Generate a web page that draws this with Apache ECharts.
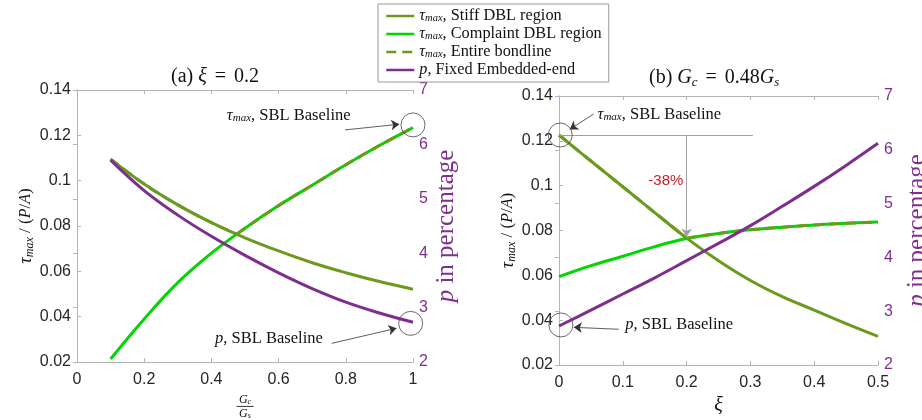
<!DOCTYPE html>
<html><head><meta charset="utf-8">
<script src="https://cdn.jsdelivr.net/npm/echarts@6/dist/echarts.min.js"></script>
<style>html,body{margin:0;padding:0;background:#fff}#c{width:922px;height:420px}</style>
</head><body><div id="c"></div>
<script>
// ---------- Panel (a): xi = 0.2, x = Gc/Gs ----------
const gRatio     = [0.1, 0.2, 0.3, 0.4, 0.5, 0.6, 0.7, 0.8, 0.9, 1.0];
const tauStiffA  = [0.1095, 0.0985, 0.0893, 0.0815, 0.0748, 0.0690, 0.0638, 0.0594, 0.0555, 0.0521];
const tauCompA   = [0.0213, 0.0390, 0.0550, 0.0680, 0.0790, 0.0890, 0.0980, 0.1070, 0.1155, 0.1234];
const entireXA   = [0.1, 0.2, 0.3, 0.4, 0.475, 0.5, 0.6, 0.7, 0.8, 0.9, 1.0];
const tauEntireA = [0.1095, 0.0985, 0.0893, 0.0815, 0.0764, 0.0790, 0.0890, 0.0980, 0.1070, 0.1155, 0.1234];
const pA         = [5.71, 5.15, 4.70, 4.31, 3.96, 3.64, 3.35, 3.10, 2.90, 2.73];

// ---------- Panel (b): Gc = 0.48Gs, x = xi ----------
const xiVals     = [0, 0.05, 0.1, 0.15, 0.2, 0.25, 0.3, 0.35, 0.4, 0.45, 0.5];
const tauStiffB  = [0.1226, 0.1110, 0.0995, 0.0880, 0.0766, 0.0665, 0.0577, 0.0505, 0.0445, 0.0385, 0.0328];
const tauCompB   = [0.0594, 0.0643, 0.0685, 0.0728, 0.0764, 0.0787, 0.0803, 0.0815, 0.0825, 0.0832, 0.0838];
const tauEntireB = [0.1226, 0.1110, 0.0995, 0.0880, 0.0766, 0.0787, 0.0803, 0.0815, 0.0825, 0.0832, 0.0838];
const pB         = [2.725, 3.02, 3.32, 3.62, 3.94, 4.26, 4.59, 4.95, 5.32, 5.71, 6.12];

// ---------- tick labels ----------
const tauTicks = [0.02, 0.04, 0.06, 0.08, 0.1, 0.12, 0.14];
const pTicks   = [2, 3, 4, 5, 6, 7];
const xTicksA  = [0, 0.2, 0.4, 0.6, 0.8, 1];
const xTicksB  = [0, 0.1, 0.2, 0.3, 0.4, 0.5];

// ---------- annotations (data coordinates) ----------
const annA = {
  tauCircle: [1.0, 0.1246], tauArrowFrom: [0.798, 0.1224], tauArrowTo: [0.959, 0.1249], tauText: [0.446, 0.1285],
  pCircle: [0.993, 2.71], pArrowFrom: [0.758, 2.343], pArrowTo: [0.951, 2.62], pText: [0.411, 2.435]
};
const annB = {
  tauCircle: [0.002, 0.1226], tauArrowFrom: [0.0545, 0.132], tauArrowTo: [0.0169, 0.1251], tauText: [0.0603, 0.1315],
  baseFrom: [0.0, 0.1226], baseTo: [0.304, 0.1226], dropFrom: [0.2, 0.1226], dropTo: [0.2, 0.0772],
  pctText: [0.1674, 0.1021], pctLabel: '-38%',
  pCircle: [0.003, 2.744], pArrowFrom: [0.0936, 2.664], pArrowTo: [0.0232, 2.70], pText: [0.104, 2.757]
};

const SERIF = '"Liberation Serif", "DejaVu Serif", serif';
const SANS = '"Liberation Sans", Arial, sans-serif';
const C_STIFF = '#6c9a1f', C_COMP = '#00d600', C_P = '#7e2f8e';
const C_PAX = '#cba3d8', C_AX = '#b4b4b4', C_TXT = '#262626';

const mkRich = (fs, sub) => ({
  t: {fontFamily: SERIF, fontStyle: 'italic', fontSize: fs, color: '#111', lineHeight: 15},
  s: {fontFamily: SERIF, fontStyle: 'italic', fontSize: sub, color: '#111', padding: [5, 0, 0, 0], lineHeight: 11},
  n: {fontFamily: SERIF, fontSize: fs, color: '#111', lineHeight: 15}
});
const legendRich = mkRich(16.3, 10.5);
const annRich = mkRich(16.5, 11);
const legendNames = {
  'Stiff': '{t|τ}{s|max}{n|, Stiff DBL region}',
  'Compliant': '{t|τ}{s|max}{n|, Complaint DBL region}',
  'Entire': '{t|τ}{s|max}{n|, Entire bondline}',
  'pFixed': '{t|p}{n|, Fixed Embedded-end}'
};

const pairs = (xs, ys) => xs.map((x, i) => [x, ys[i]]);
const circle = c => ({coord: c, symbol: 'circle', symbolSize: 24,
  itemStyle: {color: 'rgba(0,0,0,0)', borderColor: '#444', borderWidth: 0.8}, label: {show: false}});
const textAt = (c, f, extra) => ({coord: c, symbol: 'circle', symbolSize: 0,
  itemStyle: {color: 'rgba(0,0,0,0)'},
  label: Object.assign({show: true, position: 'right', distance: 0, formatter: f, rich: annRich}, extra || {})});
const arrow = (a, b) => [{coord: a, symbol: 'none'}, {coord: b, symbol: 'arrow'}];

function panelSeries(k, xs, st, co, exX, ex, pp, tauMarks, pMarks) {
  const base = {type: 'line', xAxisIndex: 2 * k, showSymbol: false, symbol: 'none', clip: false, silent: true, smooth: 0.4};
  const exPts = pairs(exX, ex);
  const kink = ex.indexOf(Math.min.apply(null, ex));   // where the envelope switches branch
  const entire = (d) => Object.assign({}, base, {name: 'Entire', yAxisIndex: 2 * k, data: d,
      lineStyle: {color: C_STIFF, width: 3, type: [10, 6]}, itemStyle: {color: C_STIFF}, z: 4});
  return [
    Object.assign({}, base, {name: 'Stiff', yAxisIndex: 2 * k, data: pairs(xs, st),
      lineStyle: {color: C_STIFF, width: 3}, itemStyle: {color: C_STIFF}, z: 2,
      markPoint: {silent: true, data: tauMarks.points, animation: false},
      markLine: {silent: true, symbolSize: 8, label: {show: false}, lineStyle: {color: '#333', width: 0.8, type: 'solid'},
        data: tauMarks.lines, animation: false}}),
    Object.assign({}, base, {name: 'Compliant', yAxisIndex: 2 * k, data: pairs(xs, co),
      lineStyle: {color: C_COMP, width: 3}, itemStyle: {color: C_COMP}, z: 3}),
    entire(exPts.slice(0, kink + 1)),
    entire(exPts.slice(kink)),
    Object.assign({}, base, {name: 'pFixed', yAxisIndex: 2 * k + 1, data: pairs(xs, pp),
      lineStyle: {color: C_P, width: 3}, itemStyle: {color: C_P}, z: 5,
      markPoint: {silent: true, data: pMarks.points, animation: false},
      markLine: {silent: true, symbolSize: 8, label: {show: false}, lineStyle: {color: '#333', width: 0.8, type: 'solid'},
        data: pMarks.lines, animation: false}})
  ];
}

const tauA = {points: [circle(annA.tauCircle), textAt(annA.tauText, '{t|τ}{s|max}{n|, SBL Baseline}')],
  lines: [arrow(annA.tauArrowFrom, annA.tauArrowTo)]};
const pAm = {points: [circle(annA.pCircle), textAt(annA.pText, '{t|p}{n|, SBL Baseline}')],
  lines: [arrow(annA.pArrowFrom, annA.pArrowTo)]};
const grayLine = {color: '#a0a0a0', width: 1};
const tauB = {points: [circle(annB.tauCircle), textAt(annB.tauText, '{t|τ}{s|max}{n|, SBL Baseline}'),
    textAt(annB.pctText, annB.pctLabel, {position: 'inside', formatter: annB.pctLabel, rich: undefined,
      color: '#c8202a', fontFamily: SANS, fontSize: 15})],
  lines: [arrow(annB.tauArrowFrom, annB.tauArrowTo),
    [{coord: annB.baseFrom, symbol: 'none', lineStyle: grayLine}, {coord: annB.baseTo, symbol: 'none'}],
    [{coord: annB.dropFrom, symbol: 'none', lineStyle: {color: '#a0a0a0', width: 1}}, {coord: annB.dropTo, symbol: 'arrow', symbolSize: 8}]]};
const pBm = {points: [circle(annB.pCircle), textAt(annB.pText, '{t|p}{n|, SBL Baseline}')],
  lines: [arrow(annB.pArrowFrom, annB.pArrowTo)]};

const range = t => ({min: t[0], max: t[t.length - 1], interval: +(t[1] - t[0]).toFixed(6)});
const tickStyle = (c) => ({show: true, inside: true, length: 4, lineStyle: {color: c, width: 1}});
function xAxes(g, ticks, name) {
  return [
    Object.assign({type: 'value', gridIndex: g, position: 'bottom', name: name, nameLocation: 'middle',
      axisLine: {show: true, onZero: false, lineStyle: {color: C_AX}}, axisTick: tickStyle(C_AX),
      splitLine: {show: false},
      axisLabel: {color: C_TXT, fontFamily: SANS, fontSize: 16, margin: 10}}, range(ticks)),
    Object.assign({type: 'value', gridIndex: g, position: 'top',
      axisLine: {show: true, onZero: false, lineStyle: {color: C_AX}}, axisTick: tickStyle(C_AX),
      splitLine: {show: false}, axisLabel: {show: false}}, range(ticks))
  ];
}
function yAxes(g, pGap) {
  return [
    Object.assign({type: 'value', gridIndex: g, position: 'left', nameLocation: 'middle', nameGap: 40,
      name: '{t|τ}{s|max}{n| / (}{i|P}{n|/}{i|A}{n|)}',
      nameTextStyle: {rich: {
        t: {fontFamily: SERIF, fontStyle: 'italic', fontSize: 18, color: '#111'},
        s: {fontFamily: SERIF, fontStyle: 'italic', fontSize: 12, color: '#111', padding: [8, 0, 0, 0]},
        i: {fontFamily: SERIF, fontStyle: 'italic', fontSize: 16, color: '#111'},
        n: {fontFamily: SERIF, fontSize: 17, color: '#111'}}},
      axisLine: {show: true, lineStyle: {color: C_AX}}, axisTick: tickStyle(C_AX), splitLine: {show: false},
      axisLabel: {color: C_TXT, fontFamily: SANS, fontSize: 16, margin: 6}}, range(tauTicks)),
    Object.assign({type: 'value', gridIndex: g, position: 'right', nameLocation: 'middle', nameGap: pGap,
      name: '{i|p}{n| in percentage}',
      nameTextStyle: {rich: {
        i: {fontFamily: SERIF, fontStyle: 'italic', fontSize: 25, color: C_P},
        n: {fontFamily: SERIF, fontSize: 25, color: C_P}}},
      axisLine: {show: true, lineStyle: {color: C_PAX}}, axisTick: tickStyle(C_PAX), splitLine: {show: false},
      axisLabel: {color: C_P, fontFamily: SANS, fontSize: 16, margin: 6}}, range(pTicks))
  ];
}

const xa = xAxes(0, xTicksA, '{i|G}{s|c}\n{bar|}\n{i|G}{s|s}');
xa[0].nameGap = 30;
xa[0].nameTextStyle = {align: 'center', rich: {
  i: {fontFamily: SERIF, fontStyle: 'italic', fontSize: 12, color: '#111', lineHeight: 11},
  s: {fontFamily: SERIF, fontStyle: 'italic', fontSize: 8, color: '#111', lineHeight: 11, padding: [5, 0, 0, 0]},
  bar: {width: 17, height: 1, backgroundColor: '#333', lineHeight: 3}}};
const xb = xAxes(1, xTicksB, '{i|ξ}');
xb[0].nameGap = 28;
xb[0].nameTextStyle = {rich: {i: {fontFamily: SERIF, fontStyle: 'italic', fontSize: 20, color: '#111'}}};

const titleRich = {
  n: {fontFamily: SERIF, fontSize: 20, fontWeight: 'normal', color: '#111'},
  e: {fontFamily: SERIF, fontSize: 20, fontWeight: 'normal', color: '#111', padding: [0, 3, 0, 3]},
  i: {fontFamily: SERIF, fontStyle: 'italic', fontSize: 20, fontWeight: 'normal', color: '#111'},
  s: {fontFamily: SERIF, fontStyle: 'italic', fontSize: 13, fontWeight: 'normal', color: '#111', padding: [9, 0, 0, 0]}
};
const option = {
  animation: false,
  backgroundColor: '#fff',
  title: [
    {left: 166, top: 62, text: '{n|(a) }{i|ξ}{e| = }{n|0.2}', textStyle: {fontWeight: 'normal', rich: titleRich}},
    {left: 644, top: 62, text: '{n|(b) }{i|G}{s|c}{e| = }{n|0.48}{i|G}{s|s}', textStyle: {fontWeight: 'normal', rich: titleRich}}
  ],
  legend: {
    left: 378, top: 4, orient: 'vertical', itemWidth: 28, itemHeight: 14, itemGap: 2,
    padding: [4, 7, 4, 7], backgroundColor: '#fff', borderColor: '#999', borderWidth: 1,
    data: ['Stiff', 'Compliant', 'Entire', 'pFixed'],
    formatter: n => legendNames[n],
    itemStyle: {opacity: 0, borderWidth: 0},
    lineStyle: {width: 2.5},
    textStyle: {rich: legendRich, lineHeight: 15}, selectedMode: false
  },
  grid: [
    {left: 77, width: 336, top: 90, height: 272, outerBoundsMode: 'none'},
    {left: 559, width: 319, top: 96, height: 269, outerBoundsMode: 'none'}
  ],
  xAxis: [xa[0], xa[1], xb[0], xb[1]],
  yAxis: [...yAxes(0, 21), ...yAxes(1, 27)],
  series: [
    ...panelSeries(0, gRatio, tauStiffA, tauCompA, entireXA, tauEntireA, pA, tauA, pAm),
    ...panelSeries(1, xiVals, tauStiffB, tauCompB, xiVals, tauEntireB, pB, tauB, pBm)
  ]
};
// panel (b) series use xAxisIndex 2 and yAxisIndex 2/3
option.series.slice(5).forEach((s, i) => { s.xAxisIndex = 2; s.yAxisIndex = (i === 4) ? 3 : 2; });
echarts.init(document.getElementById('c'), null, {renderer: 'canvas'}).setOption(option);
</script></body></html>
